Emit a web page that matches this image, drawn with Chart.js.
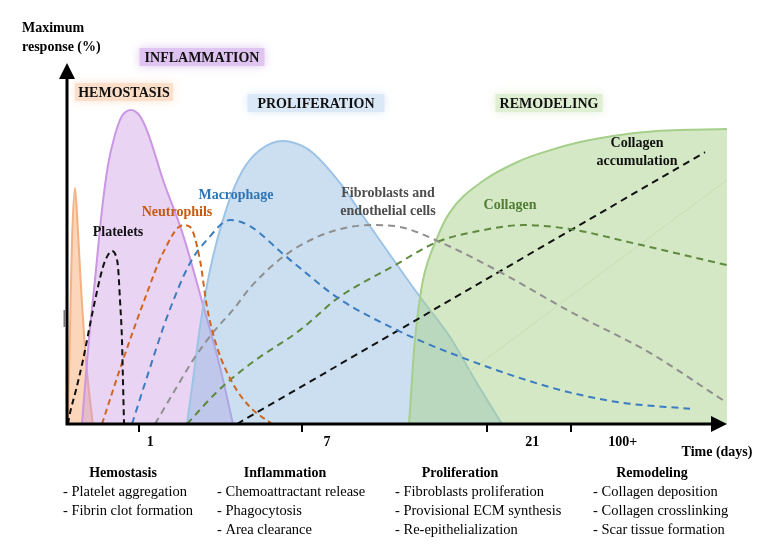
<!DOCTYPE html>
<html lang="en">
<head>
    <meta charset="UTF-8">
    <title>Wound healing phases</title>
    <script src="https://cdn.jsdelivr.net/npm/chart.js"></script>
    <style>
        body { margin: 0; background: #fff; }
        canvas { display: block; }
    </style>
</head>
<body>

    <canvas id="healingChart" width="764" height="550"></canvas>

    <script>
        // Schematic time (0-100) vs maximum response (%)
        const hemostasisArea = [[0.15, 0], [0.45, 26], [0.76, 51], [1.21, 65.4], [1.67, 53], [2.12, 38], [2.9, 17], [3.9, 0]];
        const inflammationArea = [[2.27, 0], [3.18, 20.5], [4.24, 39.9], [5.3, 59.3], [6.21, 71.7], [7.27, 80.1], [8.33, 85.3], [9.7, 87],
            [11.06, 85.3], [12.27, 80.6], [14.55, 67.6], [17.58, 52.4], [20.91, 31], [23.18, 15.8], [25.15, 0]];
        const proliferationArea = [[18.18, 0], [19.09, 12.2], [20.15, 26.9], [21.67, 42.7], [24.24, 60.1], [26.67, 70.4], [29.24, 75.9],
            [32.73, 78.4], [35.3, 77.3], [37.27, 75.1], [41.36, 66.8], [45.45, 56], [53.48, 35.2], [58.03, 24.1], [61.82, 12.2], [65.91, 0]];
        const remodelingArea = [[51.82, 0], [52.12, 8], [52.58, 20.5], [53.03, 28.8], [53.94, 39.9], [56.06, 51.5], [58.03, 58.7],
            [63.03, 67.3], [68.64, 72.9], [72.73, 75.6], [77.73, 78.1], [82.73, 79.8], [89.85, 81.2], [100, 81.7]];

        const platelets = [[0.15, 0], [0.45, 3], [1.36, 9.4], [2.42, 17.7], [3.94, 31.6], [5.45, 43.5], [6.21, 46.8], [6.82, 47.9],
            [7.42, 46.5], [7.73, 43.5], [8.03, 34.3], [8.33, 23.3], [8.48, 12.2], [8.64, 0]];
        const neutrophils = [[5.3, 0], [8.48, 17.7], [12.12, 36.3], [14.55, 47.4], [17.58, 55.1], [18.64, 54.6], [20.15, 45.4],
            [21.21, 32.4], [22.73, 21.3], [25, 11.6], [27.73, 4.7], [31.06, 0]];
        const macrophages = [[9.85, 0], [12.12, 13], [15.15, 29.6], [18.64, 44.6], [21.21, 51], [24.7, 56.5], [27.73, 54.8],
            [32.73, 47.1], [35.3, 43.2], [41.06, 34.9], [50, 26], [58.03, 19.7], [73.18, 10.2], [83.33, 6.1], [94.39, 4.2]];
        const fibroblasts = [[13.33, 0], [16.36, 9.4], [19.09, 17.7], [22.42, 26], [25.15, 31.6], [27.73, 37.7], [32.73, 46.3],
            [37.88, 51.8], [42.88, 54.6], [46.36, 55.1], [50.45, 54.6], [56.52, 50.4], [65.61, 42.1], [75.76, 31.6], [88.33, 19.7], [99.39, 6.6]];
        const collagen = [[18.18, 0], [22.73, 8.9], [27.73, 16.6], [35.3, 26], [41.06, 34.9], [49.7, 44], [56.06, 50.4],
            [63.03, 53.7], [69.09, 55.1], [76.21, 54], [85.76, 50.1], [100, 44]];
        const collagenAccumulation = [[25.76, 0], [96.67, 75.3]];
        const faintGuide = [[60.6, 14.1], [100, 67.6]];

        const tickValues = [10.9, 35.6, 63.6, 76.4];
        const tickLabelValues = [12.6, 39.4, 70.5, 84.2];
        const tickLabels = ['1', '7', '21', '100+'];

        const phaseTitles = ['HEMOSTASIS', 'INFLAMMATION', 'PROLIFERATION', 'REMODELING'];
        const phaseNames = ['Hemostasis', 'Inflammation', 'Proliferation', 'Remodeling'];
        const phaseEvents = [
            ['- Platelet aggregation', '- Fibrin clot formation'],
            ['- Chemoattractant release', '- Phagocytosis', '- Area clearance'],
            ['- Fibroblasts proliferation', '- Provisional ECM synthesis', '- Re-epithelialization'],
            ['- Collagen deposition', '- Collagen crosslinking', '- Scar tissue formation']
        ];

        const toPoints = arr => arr.map(p => ({ x: p[0], y: p[1] }));

        function area(data, line, fill, order) {
            return {
                data: toPoints(data), borderColor: line, backgroundColor: fill, borderWidth: 2,
                fill: 'origin', cubicInterpolationMode: 'monotone', order: order
            };
        }
        function dashed(data, color, width, dash) {
            return {
                data: toPoints(data), borderColor: color, borderWidth: width, borderDash: dash,
                fill: false, cubicInterpolationMode: 'monotone', order: 1
            };
        }

        const serif = '"Liberation Serif", "Times New Roman", serif';

        // axes, arrows and all the labels of the figure
        const figurePlugin = {
            id: 'figure',
            afterDraw(chart) {
                const ctx = chart.ctx;
                const x = chart.scales.x, y = chart.scales.y;
                const x0 = x.getPixelForValue(0), x1 = x.getPixelForValue(100);
                const y0 = y.getPixelForValue(0), y1 = y.getPixelForValue(100);
                ctx.save();

                // phase banners
                const banners = [
                    [phaseTitles[0], 124, 92, 106, 'rgba(252,222,200,0.9)'],
                    [phaseTitles[1], 202, 57, 133, 'rgba(222,195,240,0.95)'],
                    [phaseTitles[2], 316, 103, 145, 'rgba(218,232,247,0.95)'],
                    [phaseTitles[3], 549, 103, 115, 'rgba(222,238,210,0.95)']
                ];
                banners.forEach(b => {
                    ctx.shadowColor = b[4];
                    ctx.shadowBlur = 10;
                    ctx.fillStyle = b[4];
                    ctx.fillRect(b[1] - b[3] / 2 + 4, b[2] - 9, b[3] - 8, 18);
                });
                ctx.shadowBlur = 0;
                ctx.shadowColor = 'transparent';
                ctx.fillStyle = '#111';
                ctx.font = 'bold 14px ' + serif;
                ctx.textAlign = 'center';
                ctx.textBaseline = 'middle';
                banners.forEach(b => ctx.fillText(b[0], b[1], b[2] + 1));

                // axes
                ctx.strokeStyle = '#000';
                ctx.fillStyle = '#000';
                ctx.lineWidth = 3;
                ctx.beginPath();
                ctx.moveTo(x0, y0);
                ctx.lineTo(x0, y1 + 14);
                ctx.moveTo(x0 - 1.5, y0);
                ctx.lineTo(x1 - 14, y0);
                ctx.stroke();
                ctx.beginPath();
                ctx.moveTo(x0, y1);
                ctx.lineTo(x0 - 8, y1 + 16);
                ctx.lineTo(x0 + 8, y1 + 16);
                ctx.closePath();
                ctx.fill();
                ctx.beginPath();
                ctx.moveTo(x1, y0);
                ctx.lineTo(x1 - 16, y0 - 8);
                ctx.lineTo(x1 - 16, y0 + 8);
                ctx.closePath();
                ctx.fill();
                ctx.fillStyle = '#777';
                ctx.fillRect(x0 - 3.5, 310, 2, 17);

                ctx.lineWidth = 2;
                tickValues.forEach(v => {
                    const px = Math.round(x.getPixelForValue(v));
                    ctx.beginPath();
                    ctx.moveTo(px, y0);
                    ctx.lineTo(px, y0 + 8);
                    ctx.stroke();
                });

                ctx.fillStyle = '#000';
                ctx.font = 'bold 14px ' + serif;
                tickLabels.forEach((t, i) => ctx.fillText(t, x.getPixelForValue(tickLabelValues[i]), 442));
                ctx.fillText('Time (days)', 717, 452);

                ctx.textAlign = 'left';
                ctx.fillText('Maximum', 22, 28);
                ctx.fillText('response (%)', 22, 47);

                // series labels
                ctx.textAlign = 'center';
                const labels = [
                    ['Platelets', 118, 232, '#111'],
                    ['Neutrophils', 177, 212, '#c55a11'],
                    ['Macrophage', 236, 195, '#2e75b6'],
                    ['Fibroblasts and', 388, 193, '#4d4d4d'],
                    ['endothelial cells', 388, 211, '#4d4d4d'],
                    ['Collagen', 510, 205, '#507d33'],
                    ['Collagen', 637, 143, '#111'],
                    ['accumulation', 637, 161, '#111']
                ];
                labels.forEach(l => {
                    ctx.fillStyle = l[3];
                    ctx.fillText(l[0], l[1], l[2]);
                });

                // phase summaries under the axis
                const centers = [123, 285, 460, 652];
                const lefts = [63, 217, 395, 593];
                ctx.fillStyle = '#000';
                phaseNames.forEach((n, i) => {
                    ctx.textAlign = 'center';
                    ctx.font = 'bold 14px ' + serif;
                    ctx.fillText(n, centers[i], 473);
                    ctx.textAlign = 'left';
                    ctx.font = '14.5px ' + serif;
                    phaseEvents[i].forEach((e, j) => ctx.fillText(e, lefts[i], 492 + j * 19));
                });

                ctx.restore();
            }
        };

        new Chart(document.getElementById('healingChart').getContext('2d'), {
            type: 'line',
            data: {
                datasets: [
                    dashed(platelets, '#111', 2, [6, 4]),
                    dashed(neutrophils, '#d0651e', 2, [6, 4]),
                    dashed(macrophages, '#3a7dc0', 2, [7, 5]),
                    dashed(fibroblasts, '#8f8f8f', 2, [7, 5]),
                    dashed(collagen, '#5f8a3e', 2, [7, 5]),
                    Object.assign(dashed(collagenAccumulation, '#111', 2, [7, 5]), { cubicInterpolationMode: 'default', tension: 0 }),
                    { data: toPoints(faintGuide), borderColor: 'rgba(195,222,175,0.9)', borderWidth: 1, fill: false, order: 2 },
                    area(hemostasisArea, 'rgb(244,177,131)', 'rgba(248,180,130,0.55)', 6),
                    area(remodelingArea, 'rgb(165,207,138)', 'rgba(170,210,140,0.5)', 3),
                    area(proliferationArea, 'rgb(157,195,230)', 'rgba(140,185,225,0.45)', 4),
                    area(inflammationArea, 'rgb(203,150,228)', 'rgba(200,150,225,0.4)', 5)
                ]
            },
            options: {
                responsive: false,
                animation: false,
                devicePixelRatio: 1,
                layout: { padding: { left: 67, right: 37, top: 63, bottom: 126 } },
                elements: { point: { radius: 0 } },
                scales: {
                    x: { type: 'linear', min: 0, max: 100, display: false },
                    y: { min: 0, max: 100, display: false }
                },
                plugins: { legend: { display: false }, tooltip: { enabled: false } }
            },
            plugins: [figurePlugin]
        });
    </script>

</body>
</html>
